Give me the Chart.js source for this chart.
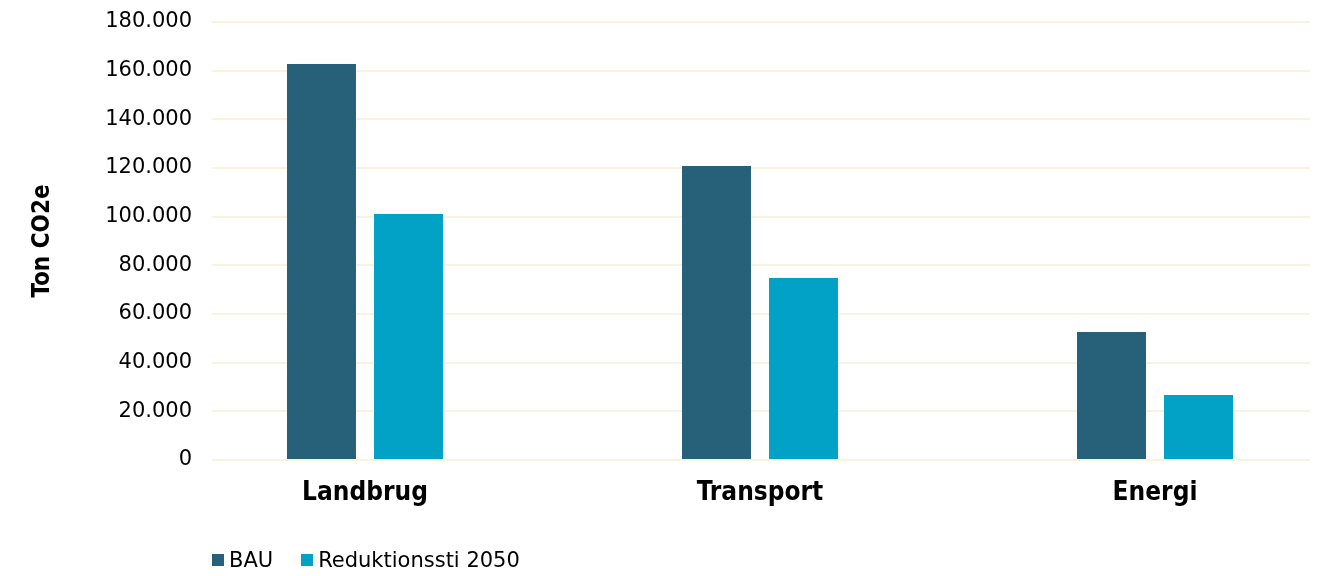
<!DOCTYPE html>
<html>
<head>
<meta charset="utf-8">
<script src="https://cdn.jsdelivr.net/npm/chart.js@4"></script>
<style>
  html, body { margin: 0; padding: 0; background: #fff; }
  #wrap { position: relative; width: 1327px; height: 576px; }
  #legend { position: absolute; left: 212px; top: 548px; display: flex; font: 21px "DejaVu Sans", Verdana, sans-serif; color: #000; }
  #legend .item { display: flex; align-items: center; margin-right: 28px; }
  #legend .box { width: 12px; height: 12px; margin-right: 5px; }
</style>
</head>
<body>
<div id="wrap">
  <canvas id="chart" width="1327" height="576"></canvas>
  <div id="legend"></div>
</div>
<script>
// data
const categories = ['Landbrug', 'Transport', 'Energi'];
const bauValues = [162700, 120800, 52600];
const reductionValues = [101100, 74800, 26700];
const seriesNames = ['BAU', 'Reduktionssti 2050'];
const seriesColors = ['#276179', '#01A2C6'];
const yMax = 180000;
const yStep = 20000;

const fmt = v => String(v).replace(/\B(?=(\d{3})+(?!\d))/g, '.');
const points = vals => vals.map((v, i) => ({x: i, y: v}));
const boldFont = '"Liberation Sans Narrow", "DejaVu Sans Condensed", sans-serif';

const chart = new Chart(document.getElementById('chart'), {
    type: 'bar',
    data: {
        datasets: [
            {label: seriesNames[0], data: points(bauValues), backgroundColor: seriesColors[0]},
            {label: seriesNames[1], data: points(reductionValues), backgroundColor: seriesColors[1]}
        ]
    },
    options: {
        responsive: false,
        animation: false,
        categoryPercentage: 0.4405,
        barPercentage: 0.793,
        layout: {padding: {top: 22, right: 17, bottom: 40, left: 0}},
        plugins: {legend: {display: false}, tooltip: {enabled: false}},
        scales: {
            x: {
                type: 'linear',
                offset: false,
                min: -0.3873,
                max: 2.3924,
                grid: {display: false},
                border: {display: false},
                ticks: {
                    stepSize: 1,
                    includeBounds: false,
                    autoSkip: false,
                    maxRotation: 0,
                    padding: 10,
                    color: '#000',
                    font: {family: boldFont, size: 26, weight: 'bold'},
                    callback: v => categories[v] ?? ''
                },
                afterFit: axis => { axis.height = 76; }
            },
            y: {
                min: 0,
                max: yMax,
                // invisible ticks give the gap between labels and grid
                grid: {color: '#F8F2DE', lineWidth: 2, drawTicks: true, tickLength: 20, tickColor: 'rgba(0,0,0,0)'},
                border: {display: false},
                ticks: {
                    stepSize: yStep,
                    padding: 0,
                    color: '#000',
                    font: {family: '"DejaVu Sans", Verdana, sans-serif', size: 21},
                    callback: v => fmt(v)
                },
                title: {
                    display: true,
                    text: 'Ton CO2e',
                    color: '#000',
                    padding: {top: 28, bottom: 0},
                    font: {family: boldFont, size: 24, weight: 'bold'}
                },
                afterFit: axis => { axis.width = 212; }
            }
        }
    }
});

// legend under the plot, built from the datasets
const legend = document.getElementById('legend');
chart.data.datasets.forEach(ds => {
    const item = document.createElement('div');
    item.className = 'item';
    item.innerHTML = `<span class="box" style="background:${ds.backgroundColor}"></span><span>${ds.label}</span>`;
    legend.appendChild(item);
});
</script>
</body>
</html>
